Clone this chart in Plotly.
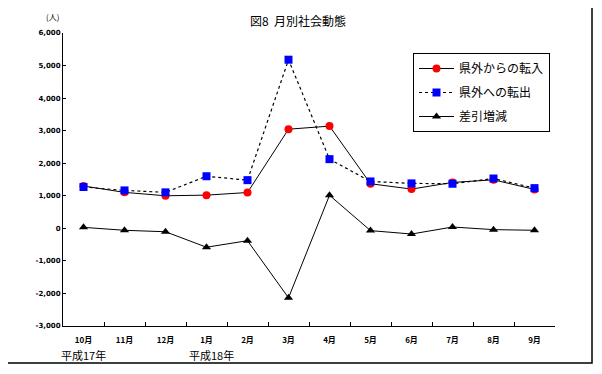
import plotly.graph_objects as go

months = ["10月", "11月", "12月", "1月", "2月", "3月", "4月", "5月", "6月", "7月", "8月", "9月"]
tennyu = [1300, 1105, 1000, 1020, 1100, 3045, 3140, 1370, 1205, 1410, 1490, 1195]
tenshutsu = [1270, 1165, 1105, 1600, 1480, 5180, 2125, 1440, 1380, 1370, 1530, 1235]
sabiki = [30, -60, -105, -580, -380, -2135, 1015, -70, -175, 40, -40, -60]
y_ticks = [-3000, -2000, -1000, 0, 1000, 2000, 3000, 4000, 5000, 6000]
y_labels = ["-3,000", "-2,000", "-1,000", "0", "1,000", "2,000", "3,000", "4,000", "5,000", "6,000"]

JP = "Noto Sans CJK JP"
OFF = 8  # page body margin
W, H = 602 - OFF, 374 - OFF
# plot area in screen pixels: x 63..555, y 33..326
X0, X1, Y0, Y1 = 63, 555, 33, 326
L, R, T, B = X0 - OFF, W - (X1 - OFF), Y0 - OFF, H - (Y1 - OFF)
pw, ph = X1 - X0, Y1 - Y0

def px(x):
    return (x - X0) / pw

def py(y):
    return (Y1 - y) / ph

fig = go.Figure()
fig.add_trace(go.Scatter(x=months, y=tennyu, name="県外からの転入", mode="lines+markers",
                         legendgroup="a",
                         line=dict(color="black", width=1),
                         marker=dict(symbol="circle", size=8, color="#ff0000")))
fig.add_trace(go.Scatter(x=months, y=tenshutsu, name="県外への転出", mode="lines+markers",
                         legendgroup="b",
                         line=dict(color="black", width=1.2, dash="dot"),
                         marker=dict(symbol="square", size=8, color="#0000ff")))
fig.add_trace(go.Scatter(x=months, y=sabiki, name="差引増減", mode="lines+markers",
                         legendgroup="c",
                         line=dict(color="black", width=1),
                         marker=dict(symbol="triangle-up", size=8, color="black")))

def label(text, x, y, size):
    return dict(text=text, xref="paper", yref="paper", x=px(x), y=py(y),
                xanchor="center", yanchor="middle", showarrow=False,
                font=dict(size=size, family=JP))

fig.update_layout(
    width=W, height=H,
    margin=dict(l=L, r=R, t=T, b=B),
    paper_bgcolor="white", plot_bgcolor="white",
    font=dict(family=JP, color="black"),
    showlegend=True,
    legend=dict(x=px(413), y=py(53), xanchor="left", yanchor="top",
                bordercolor="black", borderwidth=1, bgcolor="white",
                font=dict(size=12, family=JP), tracegroupgap=5, itemwidth=35),
    xaxis=dict(type="category", range=[-0.5, 11.5], showline=True, linecolor="black",
               linewidth=1, showgrid=False, ticks="inside", ticklen=4, tickcolor="black",
               tickson="boundaries", tickfont=dict(size=8, family=JP, weight="bold"),
               ticklabelstandoff=6, zeroline=False),
    yaxis=dict(range=[-3000, 6000], tickvals=y_ticks, ticktext=y_labels, showline=True,
               linecolor="black", linewidth=1, showgrid=False, ticks="inside", ticklen=3,
               tickcolor="black", tickfont=dict(size=7, family="DejaVu Sans", weight="bold"),
               zeroline=False),
    shapes=[dict(type="rect", xref="paper", yref="paper",
                 x0=px(5), x1=px(592), y0=py(363), y1=py(5),
                 line=dict(color="black", width=1.5), layer="below")],
    annotations=[
        label("図8  月別社会動態", 298, 20, 12),
        label("(人)", 52, 16, 8),
        label("平成17年", 83, 355, 11),
        label("平成18年", 211, 355, 11),
    ],
)

fig.write_html("out.html")
